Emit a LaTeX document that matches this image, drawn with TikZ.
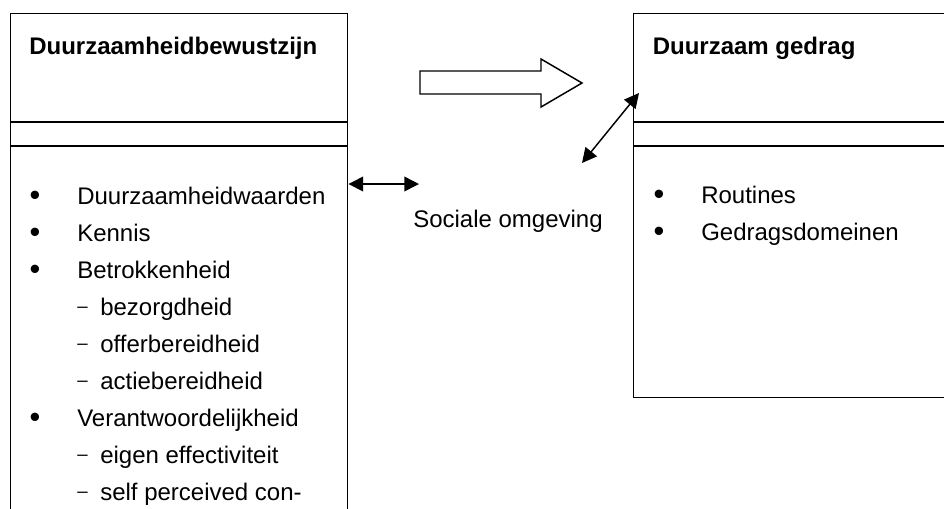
\documentclass[tikz,border=0pt]{standalone}
\usepackage{fontspec}
\setmainfont{Liberation Sans}
\usetikzlibrary{arrows.meta}
\begin{document}
\begin{tikzpicture}[x=0.75pt,y=-0.75pt,
  lw/.style={line width=1.1pt},
  boxx/.style={draw,lw,rectangle,inner sep=0pt,anchor=north west},
  txt/.style={inner sep=0pt,anchor=base west,font=\fontsize{18}{21}\selectfont},
  ttl/.style={txt,font=\fontsize{18}{21}\selectfont\bfseries},
  bul/.style={inner sep=0pt,anchor=base,font=\fontsize{23}{25}\selectfont},
  dsh/.style={inner sep=0pt,anchor=base west,font=\fontsize{14}{16}\selectfont},
  dbl/.style={lw,{Triangle[length=11pt,width=11pt]}-{Triangle[length=11pt,width=11pt]}}
]
\useasboundingbox (0,0) rectangle (944,508);
% boxes
\node[boxx,minimum width=252.75pt,minimum height=390pt] (L) at (10,13) {};
\node[boxx,minimum width=260pt,minimum height=288pt] (R) at (633,13) {};
\draw[lw] (10,122) -- (347,122) (10,146) -- (347,146);
\draw[lw] (633,122) -- (960,122) (633,146) -- (960,146);
% titles
\node[ttl] (t1) at (29,54) {Duurzaamheidbewustzijn};
\node[ttl] (t2) at (652.5,54) {Duurzaam gedrag};
% left list
\foreach \y/\t [count=\i] in {204/Duurzaamheidwaarden,241/Kennis,278/Betrokkenheid,426/Verantwoordelijkheid}{
  \node[bul] (lb\i) at (35,\y+1) {•};
  \node[txt] (lt\i) at (77,\y) {\t};
}
\foreach \y/\t [count=\i] in {315/bezorgdheid,352/offerbereidheid,389/actiebereidheid,463/eigen effectiviteit,500/self perceived con-}{
  \node[dsh] (ld\i) at (77,\y-2.5) {–};
  \node[txt] (ls\i) at (100,\y) {\t};
}
% right list
\node[bul] (rb1) at (659,204) {•};
\node[txt] (rt1) at (701,203) {Routines};
\node[bul] (rb2) at (659,241) {•};
\node[txt] (rt2) at (701,240) {Gedragsdomeinen};
% sociale omgeving
\node[txt] (so) at (413,227) {Sociale omgeving};
% hollow arrow
\draw[lw,line join=miter] (420,71) -- (541,71) -- (541,59) -- (582,83) -- (541,107) -- (541,94) -- (420,94) -- cycle;
% double arrows
\coordinate (ha) at (419,184);
\draw[dbl] (L.east |- ha) -- (ha);
\coordinate (da) at (582,163);
\coordinate (db) at (639,93);
\draw[dbl] (da) -- (db);
\end{tikzpicture}
\end{document}
